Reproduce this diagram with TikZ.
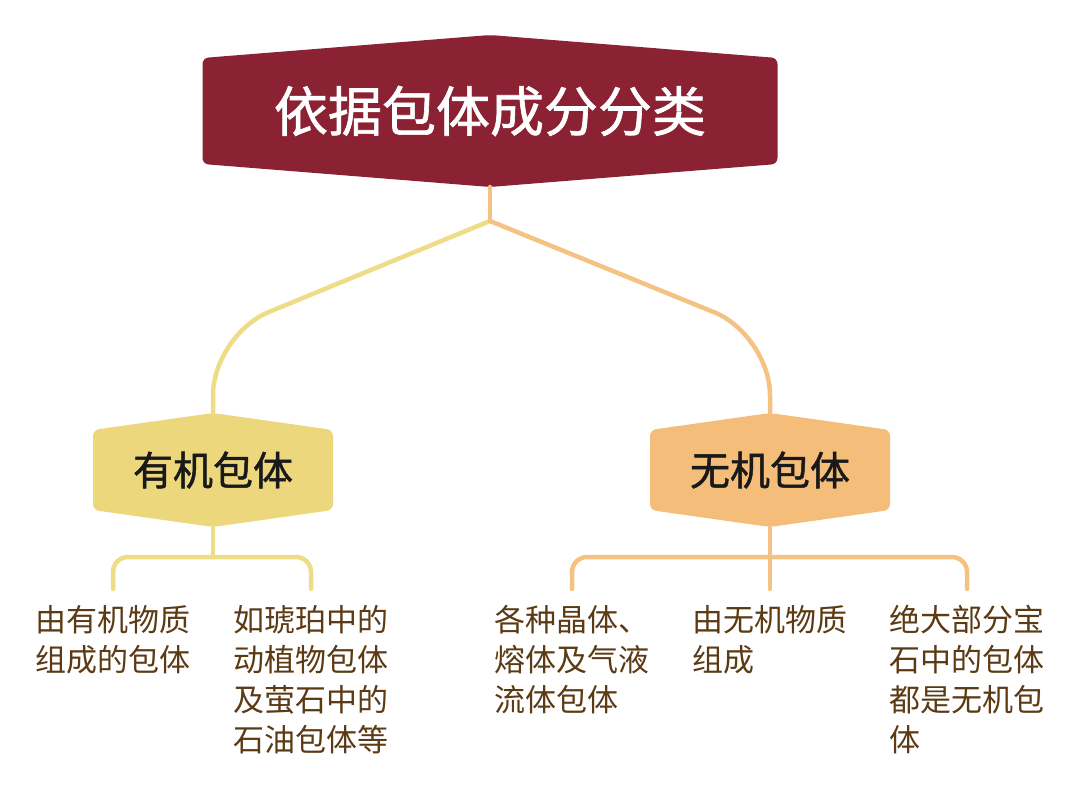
\documentclass[tikz,border=0pt]{standalone}
\usepackage{fontspec}
\newfontfamily\cjk{Noto Sans CJK SC}
\newfontfamily\cjkbold[FakeBold=1.2]{Noto Sans CJK SC}
\definecolor{rootred}{HTML}{8B2233}
\definecolor{orgyellow}{HTML}{EDD77C}
\definecolor{inorange}{HTML}{F4BE7A}
\definecolor{orgline}{HTML}{EEDC86}
\definecolor{inline}{HTML}{F4C283}
\definecolor{leafbrown}{HTML}{5B3A14}
\begin{document}
\begin{tikzpicture}[x=1pt, y=-1pt,
    hexnode/.style n args={4}{minimum width=#1, minimum height=#2, inner sep=0pt, outer sep=0pt,
      path picture={\fill[#3, rounded corners=6pt]
        ([yshift=-#4]path picture bounding box.north west) -- (path picture bounding box.north)
        -- ([yshift=-#4]path picture bounding box.north east) -- ([yshift=#4]path picture bounding box.south east)
        -- (path picture bounding box.south) -- ([yshift=#4]path picture bounding box.south west) -- cycle;}},
    leaf/.style={anchor=north, inner sep=0pt, text width=155pt, align=left, text=leafbrown,
      font=\cjk\fontsize{31}{40}\selectfont},
    branch/.style={line width=4.5pt, line cap=round, rounded corners=#1},
    branch/.default=15pt]
  \useasboundingbox (0,0) rectangle (1080,810);

  \node[hexnode={575pt}{152pt}{rootred}{23pt}, text=white, font=\cjkbold\fontsize{54}{60}\selectfont] (root) at (490,111) {依据包体成分分类};
  \node[hexnode={240pt}{114pt}{orgyellow}{17pt}, text=black!90, font=\cjkbold\fontsize{40}{44}\selectfont] (org) at (213,470) {有机包体};
  \node[hexnode={240pt}{114pt}{inorange}{17pt}, text=black!90, font=\cjkbold\fontsize{40}{44}\selectfont] (inorg) at (770,470) {无机包体};

  \node[leaf] (org1) at (113,605) {由有机物质\\组成的包体};
  \node[leaf] (org2) at (311,605) {如琥珀中的\\动植物包体\\及萤石中的\\石油包体等};
  \node[leaf] (in1) at (572,605) {各种晶体、\\熔体及气液\\流体包体};
  \node[leaf] (in2) at (770,605) {由无机物质\\组成};
  \node[leaf] (in3) at (967,605) {绝大部分宝\\石中的包体\\都是无机包\\体};

  \draw[branch, inline] (root.south) -- ([yshift=-34pt]root.south) coordinate (fork);
  \draw[branch=60pt, orgline] (fork) -- ([yshift=78pt]org.north) -- (org.north);
  \draw[branch=60pt, inline] (fork) -- ([yshift=78pt]inorg.north) -- (inorg.north);

  \draw[branch, orgline] (org.south) -- ([yshift=-30pt]org.south);
  \draw[branch, orgline] ([yshift=16pt]org1.north) |- ([yshift=-30pt]org.south) -| ([yshift=16pt]org2.north);

  \draw[branch, inline] (inorg.south) -- ([yshift=16pt]in2.north);
  \draw[branch, inline] ([yshift=16pt]in1.north) |- ([yshift=-30pt]inorg.south) -| ([yshift=16pt]in3.north);
\end{tikzpicture}
\end{document}
